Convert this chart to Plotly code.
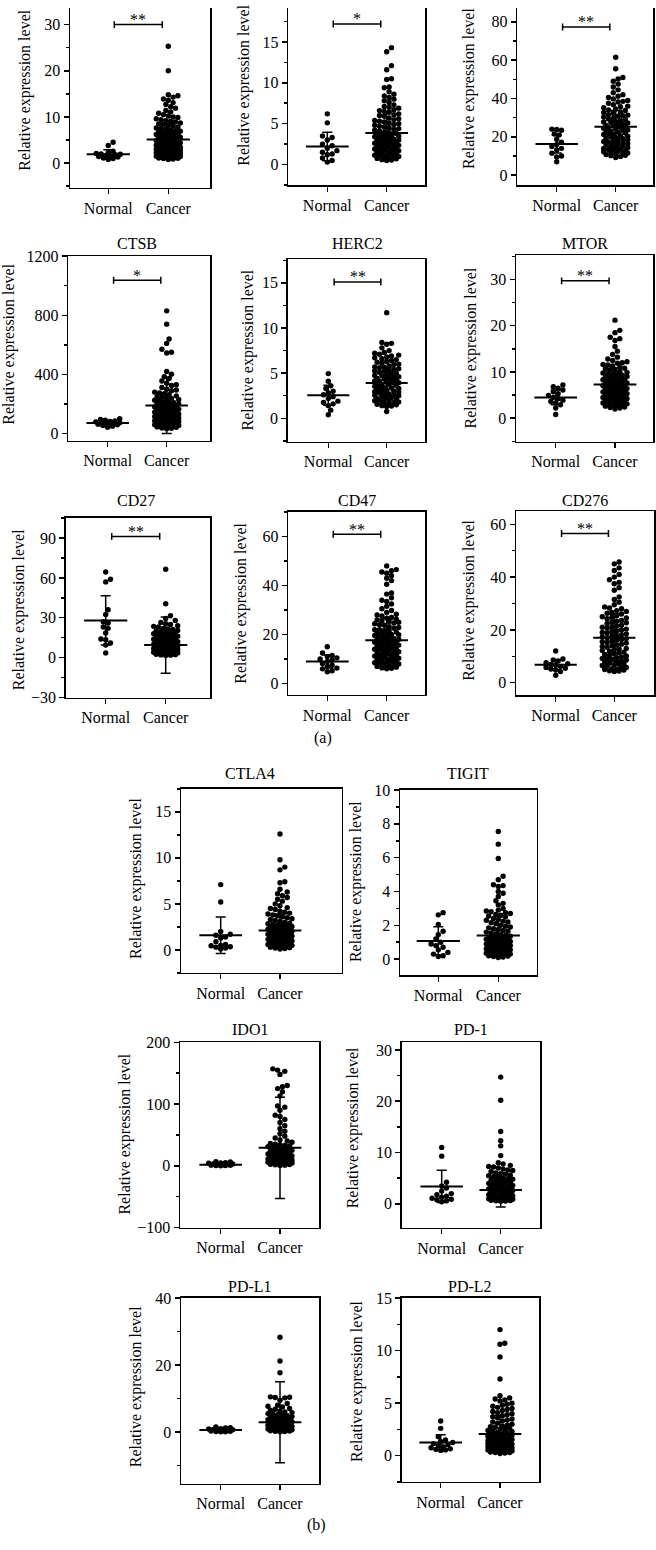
import plotly.graph_objects as go

W, H = 656, 1550
FONT = "Liberation Serif, Times New Roman, serif"

# ---------------- data ----------------
groups = ["Normal", "Cancer"]
genes = ["", "", "", "CTSB", "HERC2", "MTOR", "CD27", "CD47", "CD276",
         "CTLA4", "TIGIT", "IDO1", "PD-1", "PD-L1", "PD-L2"]
stars = ["**", "*", "**", "*", "**", "**", "**", "**", "**", "", "", "", "", "", ""]
sig_y = [30, 17.2, 77.3, 1037, 15.1, 29.7, 91.3, 60.9, 56.5, None, None, None, None, None, None]
normal_mean = [1.9, 2.2, 16.3, 72, 2.55, 4.5, 28, 9.0, 6.8, 1.6, 1.08, 1.8, 3.4, 0.6, 1.25]
normal_sd = [1.0, 1.75, 4.7, 15, 1.1, 1.6, 18.6, 2.7, 1.8, 1.98, 0.84, 1.6, 3.15, 0.4, 0.75]
cancer_mean = [5.1, 3.85, 25.2, 190, 3.9, 7.3, 9.4, 17.7, 17.0, 2.1, 1.4, 29, 2.7, 2.9, 2.05]
cancer_sd = [3.5, 2.6, 8.5, 190, 1.7, 3.6, 21.2, 9.0, 9.0, 1.8, 1.1, 82, 3.3, 12.1, 1.8]

p1_normal = [4.5, 3.8, 2.6, 2.3, 2.1, 2.0, 1.9, 1.8, 1.6, 1.5, 1.4, 1.3, 1.1, 1.0, 0.8]
p1_cancer = [25.3, 20.0, 14.8, 14.6, 14.3, 13.9, 13.6, 13.1, 12.7, 12.2, 11.9, 11.4, 11.1, 10.8,
             10.5, 10.2, 9.9, 9.6, 9.4, 9.1, 8.9, 8.7, 8.4, 8.2, 8.0, 7.8, 7.6, 7.4, 7.2, 7.0,
             6.8, 6.6, 6.4, 6.2, 6.0, 5.8, 5.7, 5.5, 5.3, 5.2, 5.0, 4.8, 4.7, 4.5, 4.3, 4.2,
             4.0, 3.9, 3.7, 3.6, 3.4, 3.3, 3.1, 3.0, 2.9, 2.7, 2.6, 2.5, 2.3, 2.2, 2.1, 2.0,
             1.9, 1.8, 1.7, 1.6, 1.5, 1.4, 1.3, 1.2, 1.1, 1.0, 0.9, 0.8, 3.5, 2.8, 2.4, 4.4,
             5.6, 6.5, 1.05, 1.25, 1.45, 1.65, 1.85, 2.05, 2.25, 2.45, 2.65, 2.85, 3.05, 3.25,
             3.45, 3.65, 3.85, 4.1, 4.6, 4.9, 5.4, 5.9, 6.3, 6.9, 7.5, 8.5, 9.2, 10.0]
p2_normal = [6.2, 5.1, 3.5, 3.3, 3.0, 2.5, 2.3, 2.0, 1.7, 1.5, 1.3, 1.2, 0.8, 0.5, 0.3]
p2_cancer = [14.3, 13.8, 12.1, 11.6, 10.5, 10.4, 9.5, 9.4, 8.9, 8.6, 8.4, 8.2, 8.0, 7.8, 7.6,
             7.3, 7.1, 6.9, 6.7, 6.6, 6.4, 6.2, 6.0, 5.9, 5.7, 5.5, 5.4, 5.2, 5.0, 4.9, 4.7,
             4.6, 4.4, 4.3, 4.1, 4.0, 3.8, 3.7, 3.5, 3.4, 3.2, 3.1, 2.9, 2.8, 2.6, 2.5, 2.4,
             2.2, 2.1, 2.0, 1.8, 1.7, 1.6, 1.5, 1.4, 1.3, 1.2, 1.1, 1.0, 0.9, 0.8, 0.7, 0.6,
             0.5, 3.6, 3.0, 2.7, 2.3, 1.9, 4.5, 5.3, 3.9, 0.55, 0.75, 0.95, 1.15, 1.35, 1.55,
             1.75, 1.95, 2.15, 2.35, 2.55, 2.75, 2.95, 3.15, 3.35, 3.55, 3.75, 4.2, 4.8, 5.1,
             5.6, 6.1, 6.5, 7.0]
p3_normal = [24.0, 23.8, 23.4, 21.5, 21.0, 18.8, 17.2, 16.0, 15.0, 14.0, 13.2, 11.5, 10.0, 9.5, 7.0]
p3_cancer = [61.5, 55.5, 51.0, 50.2, 49.0, 47.5, 46.0, 44.5, 43.0, 42.0, 41.2, 40.5, 39.8, 39.0,
             38.2, 37.5, 36.8, 36.0, 35.2, 34.5, 33.8, 33.0, 32.3, 31.6, 31.0, 30.3, 29.7, 29.0,
             28.4, 27.8, 27.2, 26.6, 26.0, 25.4, 24.8, 24.2, 23.6, 23.0, 22.4, 21.8, 21.2, 20.6,
             20.0, 19.4, 18.8, 18.2, 17.6, 17.0, 16.4, 15.8, 15.2, 14.6, 14.0, 13.4, 12.8, 12.2,
             11.6, 11.0, 10.4, 9.8, 9.2, 25.0, 22.0, 19.0, 16.0, 13.0, 28.0, 31.3, 34.0, 10.8,
             12.5, 14.3, 10.2, 11.3, 12.0, 13.7, 15.0, 16.7, 17.3, 18.5, 19.7, 20.3, 21.5, 22.7,
             23.3, 24.5, 25.7, 26.3, 27.5, 29.3, 30.7, 32.7, 35.7, 38.5]
p4_normal = [100, 95, 90, 86, 82, 79, 76, 73, 70, 67, 63, 59, 55, 50, 42]
p4_cancer = [830, 740, 640, 610, 570, 550, 545, 420, 402, 385, 372, 355, 340, 325, 312, 300, 290,
             280, 270, 262, 255, 246, 238, 230, 222, 215, 208, 201, 195, 188, 182, 176, 170, 164,
             158, 152, 147, 142, 137, 132, 127, 122, 117, 112, 107, 102, 97, 92, 87, 82, 77, 72,
             67, 62, 57, 52, 47, 42, 37, 32, 150, 120, 100, 80, 60, 200, 240, 180, 140, 110, 90,
             70, 55, 45, 35, 50, 65, 75, 85, 95, 105, 115, 125, 135, 145, 155, 165, 175, 190,
             210, 225, 250, 275, 295, 330]
p5_normal = [4.95, 4.1, 3.6, 3.3, 3.0, 2.8, 2.6, 2.4, 2.2, 1.9, 1.75, 1.6, 1.4, 0.9, 0.4]
p5_cancer = [11.7, 8.4, 8.3, 8.2, 7.8, 7.5, 7.3, 7.2, 7.0, 6.9, 6.8, 6.6, 6.5, 6.4, 6.2, 6.1, 6.0,
             5.8, 5.7, 5.6, 5.4, 5.3, 5.2, 5.0, 4.9, 4.8, 4.6, 4.5, 4.4, 4.2, 4.1, 4.0, 3.8, 3.7,
             3.6, 3.4, 3.3, 3.2, 3.0, 2.9, 2.8, 2.6, 2.5, 2.4, 2.2, 2.1, 2.0, 1.8, 1.7, 1.6, 1.4,
             1.3, 0.75, 3.9, 3.5, 3.1, 4.3, 4.7, 5.1, 5.5, 2.7, 2.3, 1.9, 1.5, 1.35, 1.55, 1.75,
             1.95, 2.15, 2.35, 2.55, 2.75, 2.95, 3.15, 3.35, 3.55, 3.75, 3.95, 4.15, 4.35, 4.55,
             4.75, 5.25, 5.65, 5.95, 6.3, 6.7, 7.1]
p6_normal = [7.2, 6.8, 6.5, 6.1, 5.7, 5.3, 4.9, 4.5, 4.2, 3.9, 3.6, 3.3, 2.9, 2.2, 0.8]
p6_cancer = [21.2, 19.0, 18.5, 17.5, 17.2, 16.8, 15.5, 14.5, 13.8, 13.2, 12.8, 12.5, 12.2, 11.9,
             11.6, 11.3, 11.0, 10.7, 10.4, 10.1, 9.8, 9.5, 9.3, 9.0, 8.8, 8.5, 8.3, 8.0, 7.8, 7.6,
             7.4, 7.2, 7.0, 6.8, 6.6, 6.4, 6.2, 6.0, 5.8, 5.6, 5.4, 5.2, 5.0, 4.8, 4.6, 4.4, 4.2,
             4.0, 3.8, 3.6, 3.4, 3.2, 3.0, 2.8, 2.6, 2.4, 2.2, 2.0, 5.5, 6.5, 7.5, 8.7, 9.7, 10.5,
             3.5, 4.5, 2.3, 2.7, 3.1, 3.3, 3.7, 4.1, 4.3, 4.7, 5.1, 5.3, 5.7, 6.1, 6.3, 6.7, 7.1,
             7.3, 7.7, 8.1, 8.4, 8.9, 9.4, 9.9, 10.8, 11.5, 12.0]
p7_normal = [64.5, 59.0, 57.0, 36.0, 32.5, 27.0, 26.0, 23.0, 22.0, 18.5, 14.0, 13.5, 11.0, 9.5, 3.5]
p7_cancer = [66.5, 40.5, 31.5, 29.5, 28.0, 26.5, 25.0, 24.0, 23.0, 22.0, 21.2, 20.4, 19.6, 18.8,
             18.0, 17.3, 16.6, 15.9, 15.2, 14.5, 13.8, 13.2, 12.6, 12.0, 11.4, 10.8, 10.2, 9.6,
             9.0, 8.5, 8.0, 7.5, 7.0, 6.5, 6.0, 5.5, 5.0, 4.5, 4.0, 3.5, 3.0, 2.5, 2.0, 1.5, 10.0,
             12.0, 14.0, 16.0, 18.0, 20.0, 6.2, 4.2, 3.2, 2.8, 5.2, 7.2, 1.8, 2.2, 3.8, 4.8, 5.8,
             6.8, 7.8, 8.8, 9.3, 10.5, 11.7, 13.0, 14.8, 16.3, 17.6, 19.2, 21.6, 23.5, 25.5]
p8_normal = [15.0, 12.5, 11.5, 11.0, 10.5, 10.0, 9.5, 9.0, 8.2, 7.5, 7.0, 6.3, 6.0, 5.2, 4.8]
p8_cancer = [48.0, 46.5, 46.0, 45.5, 45.0, 44.0, 43.0, 42.0, 40.5, 37.0, 36.5, 35.0, 34.0, 33.5,
             32.5, 31.5, 30.5, 29.8, 29.0, 28.3, 27.6, 27.0, 26.3, 25.6, 25.0, 24.4, 23.8, 23.2,
             22.6, 22.0, 21.4, 20.8, 20.2, 19.6, 19.0, 18.4, 17.8, 17.2, 16.6, 16.0, 15.4, 14.8,
             14.2, 13.6, 13.0, 12.4, 11.8, 11.2, 10.6, 10.0, 9.4, 8.8, 8.2, 7.6, 7.0, 6.4, 6.0,
             26.0, 24.0, 22.0, 20.0, 18.0, 16.0, 14.0, 12.0, 10.0, 8.0, 25.3, 21.0, 17.0, 13.3, 9.2,
             6.2, 6.7, 7.3, 7.9, 8.5, 9.1, 9.7, 10.3, 10.9, 11.5, 12.1, 12.7, 13.9, 14.5, 15.1,
             15.7, 16.3, 16.9, 17.5, 18.1, 18.7, 19.3, 19.9, 20.5, 21.7, 22.9, 24.7, 26.7, 28.0]
p9_normal = [12.0, 9.0, 8.6, 8.2, 7.6, 7.2, 6.9, 6.6, 6.2, 5.8, 5.5, 5.2, 4.8, 4.2, 2.8]
p9_cancer = [45.7, 45.0, 43.5, 42.5, 41.0, 40.0, 39.0, 38.0, 37.5, 36.0, 35.0, 32.5, 31.5, 30.5,
             29.5, 28.7, 28.0, 27.3, 26.6, 26.0, 25.4, 24.8, 24.2, 23.6, 23.0, 22.4, 21.8, 21.2,
             20.6, 20.0, 19.4, 18.8, 18.2, 17.6, 17.0, 16.4, 15.8, 15.2, 14.6, 14.0, 13.4, 12.8,
             12.2, 11.6, 11.0, 10.4, 9.8, 9.2, 8.6, 8.0, 7.4, 6.8, 6.2, 5.6, 5.0, 4.5, 4.2, 27.0,
             25.0, 23.3, 21.0, 19.0, 17.3, 15.0, 13.0, 11.3, 9.0, 7.0, 5.3, 4.4, 4.8, 5.1, 5.8,
             6.5, 7.2, 7.7, 8.3, 8.9, 9.5, 10.1, 10.7, 11.9, 12.5, 13.7, 14.3, 15.5, 16.1, 16.7,
             17.9, 18.5, 19.7, 20.3, 21.5, 22.7, 24.5, 26.3, 28.3]
p10_normal = [7.1, 5.2, 2.0, 1.7, 1.6, 1.4, 1.3, 0.9, 0.6, 0.5, 0.45, 0.35, 0.3, 0.2, 0.1]
p10_cancer = [12.6, 9.8, 9.0, 8.7, 7.4, 7.3, 6.6, 6.3, 6.1, 5.9, 5.7, 5.5, 5.3, 5.0, 4.8, 4.6,
              4.4, 4.2, 4.0, 3.9, 3.7, 3.6, 3.4, 3.3, 3.2, 3.0, 2.9, 2.8, 2.7, 2.6, 2.5, 2.4, 2.3,
              2.2, 2.1, 2.0, 1.9, 1.8, 1.7, 1.6, 1.5, 1.4, 1.3, 1.2, 1.1, 1.0, 0.9, 0.8, 0.7, 0.6,
              0.5, 0.4, 0.3, 0.2, 0.1, 1.35, 1.55, 1.75, 1.95, 2.15, 2.35, 2.55, 0.85, 1.05, 1.25,
              3.1, 0.15, 0.25, 0.35, 0.45, 0.55, 0.65, 0.75, 0.95, 1.15, 1.45, 1.65, 1.85, 2.05,
              2.25, 2.45, 2.65, 2.85, 3.5, 3.8, 4.1, 4.5]
p11_normal = [2.75, 2.62, 2.05, 1.65, 1.45, 1.2, 1.0, 0.9, 0.8, 0.7, 0.55, 0.4, 0.3, 0.2, 0.15]
p11_cancer = [7.55, 6.8, 5.95, 4.9, 4.7, 4.4, 4.35, 4.3, 4.0, 3.9, 3.7, 3.45, 3.3, 3.2, 3.0, 2.9,
              2.8, 2.7, 2.6, 2.5, 2.4, 2.3, 2.2, 2.1, 2.0, 1.9, 1.8, 1.7, 1.6, 1.5, 1.4, 1.3, 1.2,
              1.1, 1.0, 0.9, 0.8, 0.7, 0.6, 0.5, 0.45, 0.4, 0.35, 0.3, 0.25, 0.2, 0.15, 0.1, 1.45,
              1.25, 1.05, 0.85, 0.65, 0.55, 0.75, 0.95, 1.15, 1.35, 1.65, 1.85, 2.25, 0.12, 0.18,
              0.22, 0.28, 0.32, 0.38, 0.42, 0.48, 0.52, 0.58, 0.62, 0.68, 0.72, 0.78, 0.82, 0.88,
              0.92, 0.98, 1.02, 1.08, 1.12, 1.18, 1.22, 1.28, 1.55, 1.75, 1.95, 2.15, 2.35, 2.55,
              2.65, 2.75, 2.85]
p12_normal = [6.5, 6.0, 5.0, 4.5, 4.0, 3.5, 3.0, 2.5, 2.0, 1.5, 1.0, 0.8, 0.5, 0.3, 0.1]
p12_cancer = [157, 155, 153, 148, 130, 128, 125, 120, 113, 97, 95, 90, 82, 80, 75, 70, 65, 60, 56,
              52, 48, 45, 42, 40, 38, 36, 34, 32, 30, 28, 26, 24, 22, 20, 18, 16, 14, 12, 10, 8, 6,
              4, 3, 2, 1, 35, 25, 15, 5, 9, 7, 11, 13, 17, 19, 21, 0.5, 1.5, 2.5, 3.5, 4.5, 5.5,
              6.5, 7.5, 8.5, 9.5, 10.5, 12.5, 14.5, 16.5, 23, 27, 31, 33]
p13_normal = [11.0, 9.3, 4.2, 3.5, 3.1, 2.5, 2.0, 1.8, 1.5, 1.3, 1.1, 0.9, 0.8, 0.6, 0.4]
p13_cancer = [24.7, 20.2, 14.1, 12.3, 11.3, 9.4, 8.0, 7.8, 7.5, 7.2, 7.0, 6.8, 6.5, 6.3, 6.0, 5.8,
              5.5, 5.3, 5.0, 4.8, 4.5, 4.3, 4.0, 3.8, 3.5, 3.3, 3.0, 2.8, 2.5, 2.3, 2.0, 1.8, 1.5,
              1.3, 1.0, 0.8, 0.6, 0.5, 5.6, 4.6, 3.6, 2.6, 1.6, 1.2, 2.2, 3.2, 4.2, 0.7, 0.9, 1.1,
              0.55, 0.65, 0.75, 0.85, 0.95, 1.05, 1.15, 1.25, 1.4, 1.7, 1.9, 2.1, 2.4, 2.7, 2.9,
              3.1, 3.4, 3.7, 3.9, 4.4, 4.9, 5.2, 5.9, 6.6, 7.3]
p14_normal = [1.5, 1.3, 1.2, 1.0, 0.9, 0.8, 0.7, 0.6, 0.5, 0.4, 0.3, 0.2, 0.15, 0.1, 0.05]
p14_cancer = [28.3, 21.2, 17.7, 10.5, 10.4, 10.2, 9.5, 8.0, 7.5, 7.0, 6.5, 6.2, 5.8, 5.5, 5.2, 4.9,
              4.6, 4.3, 4.0, 3.7, 3.4, 3.1, 2.8, 2.5, 2.2, 1.9, 1.6, 1.3, 1.0, 0.7, 0.4, 0.2, 0.1,
              3.0, 2.0, 1.2, 0.8, 0.5, 4.5, 5.0, 0.15, 0.3, 0.35, 0.6, 0.9, 1.1, 1.4, 1.5, 1.7,
              1.8, 2.3, 2.6, 3.3, 3.6, 3.9, 4.2, 5.5, 6.0, 6.8, 7.7, 8.5, 10.3]
p15_normal = [3.3, 2.6, 1.8, 1.5, 1.35, 1.25, 1.15, 1.05, 0.95, 0.85, 0.75, 0.65, 0.6, 0.55, 0.5]
p15_cancer = [12.0, 10.7, 10.6, 9.4, 7.3, 5.7, 5.5, 5.4, 5.3, 5.2, 5.0, 4.8, 4.6, 4.4, 4.2, 4.0,
              3.8, 3.6, 3.4, 3.2, 3.0, 2.9, 2.8, 2.7, 2.6, 2.5, 2.4, 2.3, 2.2, 2.1, 2.0, 1.9, 1.8,
              1.7, 1.6, 1.5, 1.4, 1.3, 1.2, 1.1, 1.0, 0.9, 0.8, 0.7, 0.6, 0.5, 0.4, 0.3, 0.2, 1.25,
              1.05, 0.85, 0.65, 0.45, 1.45, 1.65, 1.85, 0.95, 0.75, 0.55, 0.35, 0.25, 0.3, 0.45,
              0.5, 0.6, 0.7, 0.8, 0.9, 1.0, 1.1, 1.15, 1.3, 1.35, 1.5, 1.55, 1.7, 1.75, 1.9, 1.95,
              2.05, 2.15, 2.35, 2.55, 2.75, 3.1, 3.3, 3.5, 3.7, 3.9, 4.1, 4.3, 4.5, 4.7, 4.9]

normal_vals = [p1_normal, p2_normal, p3_normal, p4_normal, p5_normal, p6_normal, p7_normal,
               p8_normal, p9_normal, p10_normal, p11_normal, p12_normal, p13_normal, p14_normal,
               p15_normal]
cancer_vals = [p1_cancer, p2_cancer, p3_cancer, p4_cancer, p5_cancer, p6_cancer, p7_cancer,
               p8_cancer, p9_cancer, p10_cancer, p11_cancer, p12_cancer, p13_cancer, p14_cancer,
               p15_cancer]

# ---------------- layout (pixel geometry) ----------------
panels = [
    dict(box=(70, 0, 210, 181.7), yr=(-5.36, 33.6), dtick=10, cat=(108.3, 168.3), lab=(25, 83.5), ty=None),
    dict(box=(288.3, 0, 425, 179), yr=(-2.52, 19.15), dtick=5, cat=(327.3, 386.7), lab=(244, 78.5), ty=None),
    dict(box=(517.3, 0, 653, 179), yr=(-5.2, 87.2), dtick=20, cat=(556.7, 615.7), lab=(468.3, 81.5), ty=None),
    dict(box=(68.3, 250.7, 210, 437.3), yr=(-49, 1200.5), dtick=400, cat=(107.7, 166.7), lab=(9.2, 340), ty=238),
    dict(box=(287.7, 254, 425, 438.3), yr=(-2.6, 17.6), dtick=5, cat=(328.3, 386.7), lab=(248.3, 345.8), ty=238),
    dict(box=(516, 250, 653.3, 438.3), yr=(-5.1, 35.2), dtick=10, cat=(555.7, 615), lab=(470.7, 343.3), ty=238),
    dict(box=(65.7, 515, 210, 696.7), yr=(-30.1, 105.4), dtick=30, cat=(105.7, 165.7), lab=(19, 608.5), ty=498),
    dict(box=(288.3, 509, 425, 694), yr=(-4.6, 70.1), dtick=20, cat=(327.3, 386.7), lab=(241, 602), ty=498),
    dict(box=(516, 508.3, 654, 694.3), yr=(-4.7, 65), dtick=20, cat=(555.7, 614.3), lab=(468.7, 598.3), ty=498),
    dict(box=(181, 789, 341.7, 975), yr=(-2.5, 17.5), dtick=5, cat=(220.7, 280), lab=(136, 880), ty=773),
    dict(box=(400, 790, 536.7, 977.3), yr=(-0.95, 10.01), dtick=2, cat=(438.3, 498.3), lab=(356.7, 882.5), ty=773),
    dict(box=(180, 1045, 319.3, 1232.3), yr=(-100.2, 200.2), dtick=100, cat=(220.7, 280), lab=(125, 1138.3), ty=1031.7),
    dict(box=(401.7, 1045, 540, 1232.7), yr=(-4.7, 31.5), dtick=10, cat=(441.7, 500.7), lab=(353.3, 1131.7), ty=1031.7),
    dict(box=(181, 1303.3, 319.3, 1491), yr=(-15.4, 40.05), dtick=20, cat=(220.7, 280), lab=(136.3, 1393.3), ty=1292),
    dict(box=(401.7, 1303.3, 539.3, 1489.3), yr=(-2.5, 15.02), dtick=5, cat=(440.7, 500), lab=(356.7, 1387.5), ty=1292),
]

MS = 5.4      # marker diameter (px)


def swarm(vals, ypx, xpx, d=4.8, step=2.4, maxw=13.5):
    """Beeswarm x offsets (in category units) computed from the values."""
    order = sorted(range(len(vals)), key=lambda k: vals[k])
    cands = [0.0]
    k = 1
    while k * step <= maxw:
        cands += [k * step, -k * step]
        k += 1
    placed = []
    offs = [0.0] * len(vals)
    for idx in order:
        yp = vals[idx] * ypx
        near = [(px, py) for px, py in placed if abs(yp - py) < d]
        best, bestd, bc = None, -1, 0.0
        for c in cands:
            md = min((((c - px) ** 2 + (yp - py) ** 2) ** 0.5 for px, py in near), default=1e9)
            if md >= d:
                best = c
                break
            if md > bestd:
                bestd, bc = md, c
        if best is None:
            best = bc
        placed.append((best, yp))
        offs[idx] = best / xpx
    return offs


fig = go.Figure()
lay = {}
ann = []
tfont = dict(family=FONT, size=16, color="black")

for i, P in enumerate(panels):
    n = i + 1
    xa = "x" if n == 1 else f"x{n}"
    ya = "y" if n == 1 else f"y{n}"
    left, top, right, bottom = P["box"]
    ymin, ymax = P["yr"]
    nx, cx = P["cat"]
    sp = cx - nx
    xr = [(left - nx) / sp, 1 + (right - cx) / sp]
    ypx = (bottom - top) / (ymax - ymin)
    top_row = top <= 0.5

    lay["xaxis" if n == 1 else f"xaxis{n}"] = dict(
        domain=[left / W, right / W], range=xr, anchor=ya,
        tickvals=[0, 1], ticktext=groups, ticks="outside", ticklen=5, tickwidth=1.5,
        tickcolor="black", showline=True, linecolor="black", linewidth=1.5,
        mirror=(not top_row), showgrid=False, zeroline=False, tickfont=tfont)
    lay["yaxis" if n == 1 else f"yaxis{n}"] = dict(
        domain=[1 - bottom / H, 1 - top / H], range=[ymin, ymax], anchor=xa,
        tick0=0, dtick=P["dtick"], ticks="outside", ticklen=5, tickwidth=1.5, tickcolor="black",
        minor=dict(dtick=P["dtick"] / 2, ticks="outside", ticklen=3, tickwidth=1.5,
                   tickcolor="black", showgrid=False),
        showline=True, linecolor="black", linewidth=1.5, mirror=True,
        showgrid=False, zeroline=False, tickfont=tfont)

    for g, vals in enumerate([normal_vals[i], cancer_vals[i]]):
        offs = swarm(vals, ypx, sp)
        fig.add_trace(go.Scatter(
            x=[g + o for o in offs], y=vals, mode="markers", xaxis=xa, yaxis=ya,
            marker=dict(size=MS, color="black", line=dict(width=0)),
            showlegend=False, hoverinfo="skip"))

    for g, (m, s) in enumerate([(normal_mean[i], normal_sd[i]), (cancer_mean[i], cancer_sd[i])]):
        fig.add_trace(go.Scatter(
            x=[g], y=[m], mode="markers", xaxis=xa, yaxis=ya,
            marker=dict(size=1, color="rgba(0,0,0,0)"),
            error_y=dict(type="data", array=[s], color="black", thickness=1.5, width=5),
            showlegend=False, hoverinfo="skip"))
        fig.add_trace(go.Scatter(
            x=[g - 0.36, g + 0.36], y=[m, m], mode="lines", xaxis=xa, yaxis=ya,
            line=dict(color="black", width=2), showlegend=False, hoverinfo="skip"))

    if sig_y[i] is not None:
        sy = sig_y[i]
        cap = 3.5 / ypx
        fig.add_trace(go.Scatter(
            x=[0.1, 0.9, None, 0.1, 0.1, None, 0.9, 0.9],
            y=[sy, sy, None, sy - cap, sy + cap, None, sy - cap, sy + cap],
            mode="lines", xaxis=xa, yaxis=ya, line=dict(color="black", width=1.5),
            showlegend=False, hoverinfo="skip"))
        ann.append(dict(text=stars[i], x=0.5, y=sy, xref=xa, yref=ya, showarrow=False,
                        xanchor="center", yanchor="middle", yshift=5, font=tfont))

    if genes[i] and P["ty"] is not None:
        ann.append(dict(text=genes[i], x=0.5, y=1 - P["ty"] / H, xref=xa, yref="paper",
                        showarrow=False, xanchor="center", yanchor="middle", font=tfont))

    lx, ly = P["lab"]
    ann.append(dict(text="Relative expression level", x=lx / W, y=1 - ly / H, xref="paper",
                    yref="paper", showarrow=False, textangle=-90, xanchor="center",
                    yanchor="middle", font=tfont))

ann.append(dict(text="(a)", x=323.3 / W, y=1 - 737.7 / H, xref="paper", yref="paper",
                showarrow=False, xanchor="center", yanchor="middle", font=tfont))
ann.append(dict(text="(b)", x=316.7 / W, y=1 - 1533.3 / H, xref="paper", yref="paper",
                showarrow=False, xanchor="center", yanchor="middle", font=tfont))

fig.update_layout(width=W, height=H, margin=dict(l=0, r=0, t=0, b=0),
                  paper_bgcolor="white", plot_bgcolor="white", showlegend=False,
                  font=dict(family=FONT, size=16, color="black"), annotations=ann, **lay)

fig.write_html("out.html", config={"displayModeBar": False, "staticPlot": True},
               post_script="document.body.style.margin='0';document.body.style.padding='0';")
